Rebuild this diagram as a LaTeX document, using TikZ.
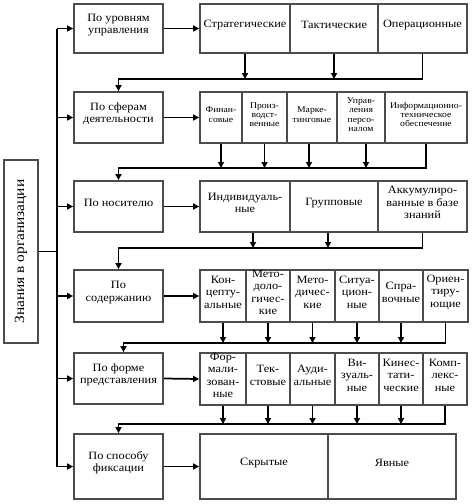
\documentclass[tikz,border=0pt]{standalone}
\usepackage{fontspec}
\setmainfont{Liberation Serif}[FakeStretch=1.1]
\usetikzlibrary{arrows.meta,fit,calc}
\newcommand\bx[7][]{\node[box,#1,fit={(#3,#4)(#5,#6)}] (#2) {#7};}
\begin{document}
\begin{tikzpicture}[x=0.75pt,y=-0.75pt,
  box/.style={draw=black!70,line width=1.3pt,inner sep=0pt,align=center,font=\fontsize{8.4pt}{9.4pt}\selectfont},
  sm/.style={font=\fontsize{6.6pt}{7pt}\selectfont},
  ln/.style={line width=1.3pt,black},
  arr/.style={ln,-{Triangle[length=4.5pt,width=4.5pt]}}]
\useasboundingbox (0,0) rectangle (475,504);
% main box
\bx{K}{4}{160}{38}{343}{}
\node[rotate=90,font=\fontsize{10.5pt}{11pt}\selectfont] (Kt) at (K.center) {Знания в организации};
% left column
\bx{L1}{74}{4}{163}{53}{По уровням\\управления}
\bx{L2}{74}{92}{163}{143}{По сферам\\деятельности}
\bx{L3}{74}{181}{163}{232}{По носителю}
\bx{L4}{74}{270}{163}{322}{По\\содержанию}
\bx{L5}{74}{353}{163}{404}{По форме\\представления}
\bx{L6}{74}{434}{163}{499}{По способу\\фиксации}
% row 1
\bx{R11}{200}{4}{290}{53}{Стратегические}
\bx{R12}{290}{4}{378}{53}{Тактические}
\bx{R13}{378}{4}{467}{53}{Операционные}
% row 2
\bx[sm]{R21}{200}{92}{242}{143}{Финан-\\совые}
\bx[sm]{R22}{242}{92}{287}{143}{Произ-\\водст-\\венные}
\bx[sm]{R23}{287}{92}{337}{143}{Марке-\\тинговые}
\bx[sm]{R24}{337}{92}{385}{143}{Управ-\\ления\\персо-\\налом}
\bx[sm]{R25}{385}{92}{467}{143}{Информационно-\\техническое\\обеспечение}
% row 3
\bx{R31}{200}{181}{290}{232}{Индивидуаль-\\ные}
\bx{R32}{290}{181}{378}{232}{Групповые}
\bx{R33}{378}{181}{467}{232}{Аккумулиро-\\ванные в базе\\знаний}
% row 4
\bx{R41}{200}{270}{246}{322}{Кон-\\цепту-\\альные}
\bx{R42}{246}{270}{290}{322}{Мето-\\доло-\\гичес-\\кие}
\bx{R43}{290}{270}{335}{322}{Мето-\\дичес-\\кие}
\bx{R44}{335}{270}{379}{322}{Ситуа-\\цион-\\ные}
\bx{R45}{379}{270}{423}{322}{Спра-\\вочные}
\bx{R46}{423}{270}{468}{322}{Ориен-\\тиру-\\ющие}
% row 5
\bx{R51}{200}{353}{246}{405}{Фор-\\мали-\\зован-\\ные}
\bx{R52}{246}{353}{290}{405}{Тек-\\стовые}
\bx{R53}{290}{353}{335}{405}{Ауди-\\альные}
\bx{R54}{335}{353}{379}{405}{Ви-\\зуаль-\\ные}
\bx{R55}{379}{353}{423}{405}{Кинес-\\тати-\\ческие}
\bx{R56}{423}{353}{467}{405}{Комп-\\лекс-\\ные}
% row 6
\bx{R61}{200}{434}{328}{499}{Скрытые}
\bx{R62}{328}{434}{456}{499}{Явные}
% trunk
\coordinate (T) at (57,0);
\draw[ln] (L1.west -| T) -- (L6.west -| T);
\draw[ln] (K.east) -- (K.east -| T);
\foreach \i in {1,...,6}{
  \draw[arr] (L\i.west -| T) -- (L\i.west);
  \draw[arr] (L\i.east) -- (R\i1.west);
}
% row 1 -> row 2
\coordinate (b1) at (0,79);
\draw[arr] (R13.south) -- (R13.south |- b1) -- (L2.north |- b1) -- (L2.north);
\draw[arr] (R11.south) -- (R11.south |- b1);
\draw[arr] (R12.south) -- (R12.south |- b1);
% row 2 -> row 3
\coordinate (b2) at (0,168);
\draw[arr] (R25.south) -- (R25.south |- b2) -- (L3.north |- b2) -- (L3.north);
\draw[arr] (R21.south) -- (R21.south |- b2);
\draw[arr] (R22.south) -- (R22.south |- b2);
\draw[arr] ([xshift=-2.25pt]R23.south) -- ([xshift=-2.25pt]R23.south |- b2);
\draw[arr] ([xshift=3.75pt]R24.south) -- ([xshift=3.75pt]R24.south |- b2);
% row 3 -> row 4
\coordinate (b3) at (0,248);
\draw[arr] (R33.south) -- (R33.south |- b3) -- (L4.north |- b3) -- (L4.north);
\draw[arr] ([xshift=6pt]R31.south) -- ([xshift=6pt]R31.south |- b3);
\draw[arr] ([xshift=-4.5pt]R32.south) -- ([xshift=-4.5pt]R32.south |- b3);
% row 4 -> row 5
\coordinate (b4) at (0,343);
\draw[arr] (R46.south) -- (R46.south |- b4) -- ([xshift=3.75pt]L5.north |- b4) -- ([xshift=3.75pt]L5.north);
\foreach \j in {1,...,5}{
  \draw[arr] (R4\j.south) -- (R4\j.south |- b4);
}
% row 5 -> row 6
\coordinate (b5) at (0,424);
\draw[arr] (R56.south) -- (R56.south |- b5) -- (L6.north |- b5) -- (L6.north);
\foreach \j in {1,...,5}{
  \draw[arr] (R5\j.south) -- (R5\j.south |- b5);
}
\end{tikzpicture}
\end{document}
